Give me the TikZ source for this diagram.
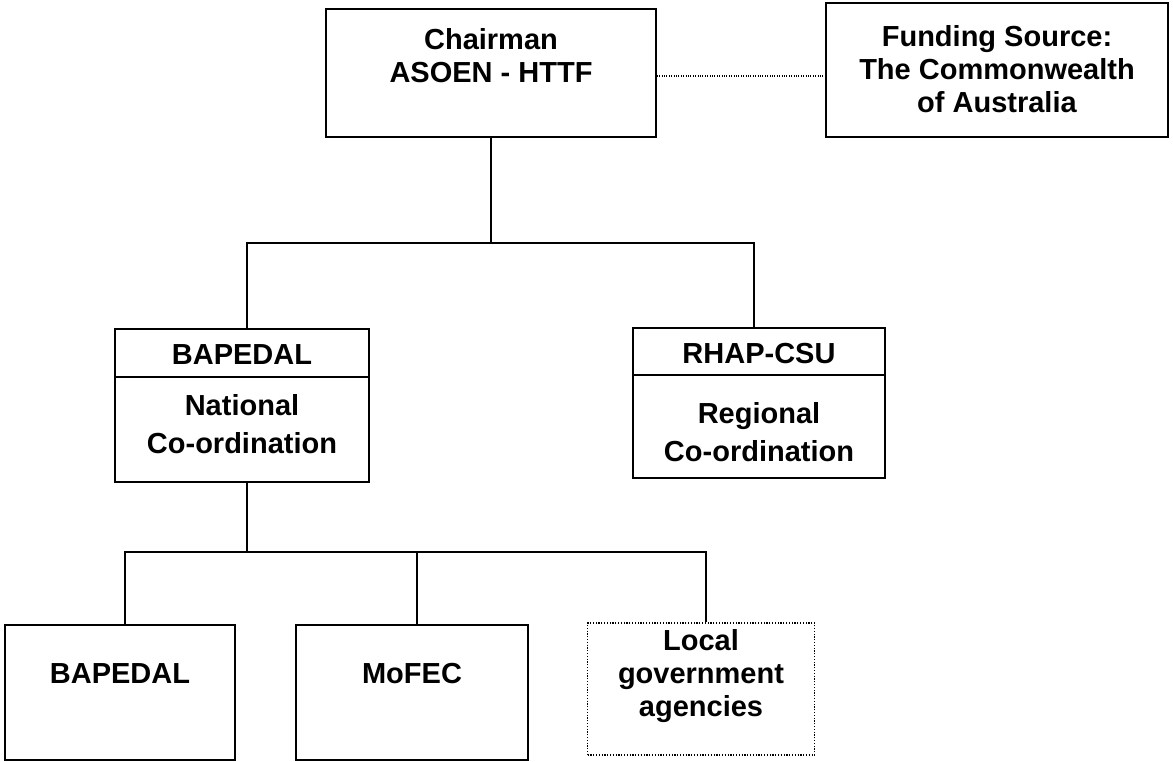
\documentclass[tikz,border=0pt]{standalone}
\usepackage{fontspec}
\setmainfont{Liberation Sans}
\tikzset{
  box/.style={draw=black, line width=1.6pt, inner sep=0pt, fill=white},
  dotbox/.style={draw=black, line width=1.7pt, dash pattern=on 1.2pt off 1.6pt, inner sep=0pt},
  txt/.style={align=center, inner sep=0pt, font=\bfseries\fontsize{29}{33}\selectfont},
  wide/.style={font=\bfseries\fontsize{29}{38}\selectfont},
  conn/.style={draw=black, line width=1.8pt},
  link/.style={draw=black, line width=1.3pt, dash pattern=on 1pt off 1.4pt},
}
\begin{document}
\begin{tikzpicture}[x=1pt,y=-1pt]
\useasboundingbox (0,0) rectangle (1173,762);
% boxes
\node[box, minimum width=330pt, minimum height=128pt] (chair) at (491,73) {};
\node[box, minimum width=342pt, minimum height=134pt] (fund) at (997,70) {};
\node[box, minimum width=254pt, minimum height=153pt] (bap) at (242,405.5) {};
\node[box, minimum width=252pt, minimum height=150pt] (rhap) at (759,403) {};
\node[box, minimum width=230pt, minimum height=135pt] (b1) at (120,692.5) {};
\node[box, minimum width=232pt, minimum height=135pt] (b2) at (412,692.5) {};
\node[dotbox, minimum width=227pt, minimum height=132pt] (b3) at (701,689) {};
% dividers
\coordinate (d1) at (0,377);
\coordinate (d2) at (0,375);
\draw[box] (bap.west |- d1) -- (bap.east |- d1);
\draw[box] (rhap.west |- d2) -- (rhap.east |- d2);
% texts
\node[txt] (chairT) at (491,56) {Chairman\\ASOEN - HTTF};
\node[txt] (fundT) at (997,69) {Funding Source:\\The Commonwealth\\of Australia};
\node[txt] (bapH) at (242,355) {BAPEDAL};
\node[txt, wide] (bapT) at (242,424) {National\\Co-ordination};
\node[txt] (rhapH) at (759,354) {RHAP-CSU};
\node[txt, wide] (rhapT) at (759,432) {Regional\\Co-ordination};
\node[txt] (b1T) at (120,674) {BAPEDAL};
\node[txt] (b2T) at (412,674) {MoFEC};
\node[txt] (b3T) at (701,676) {Local\\government\\agencies};
% connectors
\coordinate (bus1) at (0,243);
\coordinate (bus2) at (0,552);
\draw[link] (chair.east |- 0,76) -- (fund.west |- 0,76);
\draw[conn] (chair.south) -- (chair.south |- bus1);
\draw[conn] ([xshift=5pt]bap.north) -- ([xshift=5pt]bap.north |- bus1) -- ([xshift=-5pt]rhap.north |- bus1) -- ([xshift=-5pt]rhap.north);
\draw[conn] ([xshift=5pt]bap.south) -- ([xshift=5pt]bap.south |- bus2);
\draw[conn] ([xshift=5pt]b1.north) -- ([xshift=5pt]b1.north |- bus2) -- ([xshift=5pt]b3.north |- bus2) -- ([xshift=5pt]b3.north);
\draw[conn] ([xshift=5pt]b2.north) -- ([xshift=5pt]b2.north |- bus2);
\end{tikzpicture}
\end{document}
